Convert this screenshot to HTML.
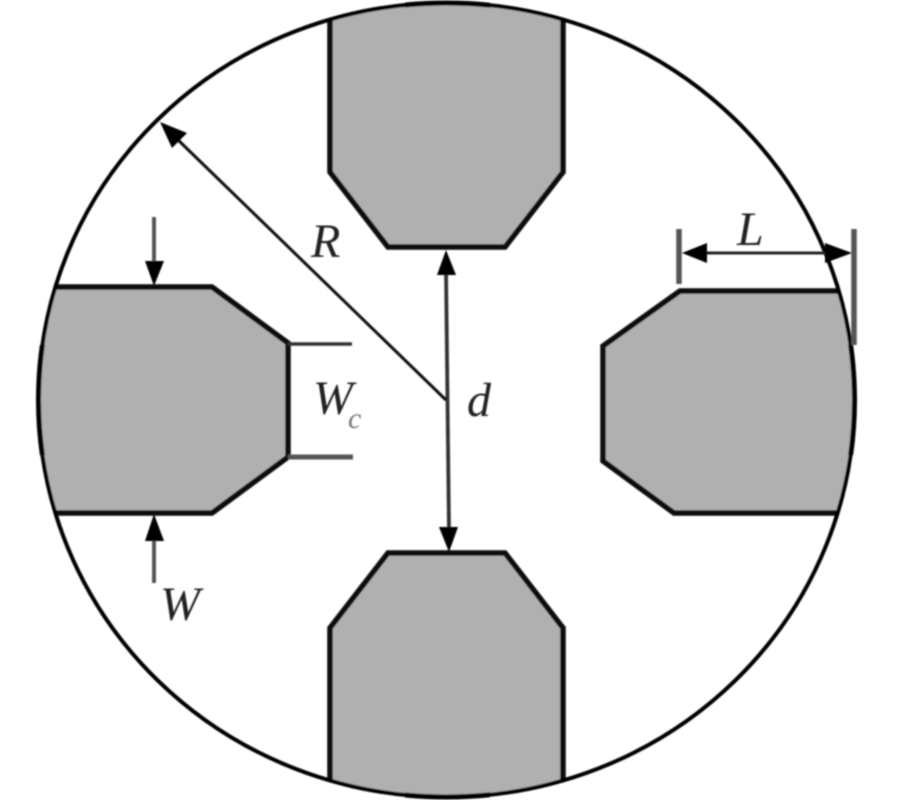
<!DOCTYPE html>
<html>
<head>
<meta charset="utf-8">
<style>
html,body{margin:0;padding:0;background:#fff;width:900px;height:800px;overflow:hidden}
svg{display:block}
text{font-family:"Liberation Serif",serif;font-style:italic;fill:#222}
</style>
</head>
<body>
<svg width="900" height="800" viewBox="0 0 900 800" xmlns="http://www.w3.org/2000/svg">
<defs>
<clipPath id="c"><ellipse cx="446.5" cy="400" rx="408" ry="397"/></clipPath>
<clipPath id="t"><rect x="0" y="345" width="900" height="110"/><rect x="405" y="0" width="85" height="800"/></clipPath>
<filter id="b" x="-5%" y="-5%" width="110%" height="110%"><feGaussianBlur stdDeviation="0.8"/></filter>
</defs>
<g filter="url(#b)">
<g clip-path="url(#c)" fill="#b0b0b0" stroke="#0c0c0c" stroke-width="5.5" stroke-linejoin="miter">
<polygon points="330,-10 330,172 388,247 505,247 563,172 563,-10"/>
<polygon points="330,810 330,628 388,553 505,553 563,628 563,810"/>
<polygon points="20,287 212,287 288,343 288,457 212,513 20,513"/>
<polygon points="880,291 680,291 603,346 603,461 674,513 880,513"/>
</g>
<ellipse cx="446.5" cy="400" rx="408" ry="397" fill="none" stroke="#050505" stroke-width="4"/>
<ellipse cx="446.5" cy="400" rx="408" ry="397" fill="none" stroke="#000" stroke-width="5" clip-path="url(#t)"/>

<!-- W arrows -->
<line x1="154" y1="217" x2="154" y2="265" stroke="#555" stroke-width="4"/>
<polygon points="145,261 164,261 154,286" fill="#000"/>
<line x1="154" y1="583" x2="154" y2="535" stroke="#555" stroke-width="4"/>
<polygon points="145,541 164,541 154,514" fill="#000"/>

<!-- d arrow -->
<line x1="446" y1="270" x2="449" y2="530" stroke="#333" stroke-width="3.8"/>
<polygon points="437,275 456,275 446,250" fill="#000"/>
<polygon points="439,527 458,527 449,552" fill="#000"/>

<!-- R arrow -->
<line x1="446" y1="400" x2="175" y2="137" stroke="#111" stroke-width="3"/>
<polygon points="160,122 187,133 172,148" fill="#000"/>

<!-- L dimension -->
<line x1="679" y1="229" x2="679" y2="284" stroke="#555" stroke-width="5.5"/>
<line x1="854" y1="229" x2="854" y2="345" stroke="#555" stroke-width="5.5"/>
<line x1="700" y1="253" x2="830" y2="253" stroke="#222" stroke-width="3"/>
<polygon points="682,253 707,243 707,263" fill="#000"/>
<polygon points="852,253 825,243 825,263" fill="#000"/>

<!-- Wc lines -->
<line x1="288" y1="344" x2="352" y2="344" stroke="#333" stroke-width="3.5"/>
<line x1="288" y1="457" x2="353" y2="457" stroke="#555" stroke-width="5"/>

<text x="311" y="257" font-size="48">R</text>
<text x="313" y="414" font-size="48">W</text>
<text x="348" y="428" font-size="30" style="fill:#777">c</text>
<text x="467" y="416" font-size="48">d</text>
<text x="160" y="620" font-size="48">W</text>
<text x="737" y="245" font-size="48">L</text>
</g>
</svg>
</body>
</html>
